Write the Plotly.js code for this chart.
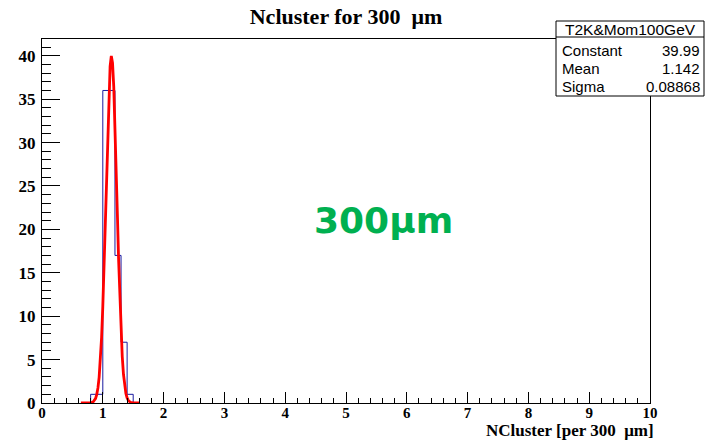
<!DOCTYPE html>
<html>
<head>
<meta charset="utf-8">
<script src="https://cdn.plot.ly/plotly-3.0.1.min.js"></script>
<style>html,body{margin:0;padding:0;background:#fff;}#chart{width:706px;height:440px;}</style>
</head>
<body>
<div id="chart"></div>
<script>
// Histogram bins (low edges, width 0.1) and counts
const binLow = [0.8, 0.9, 1.0, 1.1, 1.2, 1.3, 1.4];
const binWidth = 0.1;
const counts = [1, 1, 36, 36, 17, 7, 1];

// Fitted gaussian curve
const fitX = [0.64, 0.80, 0.84, 0.88, 0.90, 0.92, 0.94, 0.96, 0.98, 1.00, 1.02, 1.04, 1.06, 1.08, 1.10, 1.12, 1.14, 1.16, 1.18, 1.20, 1.22, 1.24, 1.26, 1.28, 1.30, 1.32, 1.34, 1.36, 1.38, 1.40, 1.42, 1.46, 1.50, 1.60];
const fitY = [0, 0.02, 0.12, 0.51, 0.97, 1.74, 2.99, 4.87, 7.54, 11.10, 15.52, 20.64, 26.08, 31.32, 35.75, 38.78, 39.98, 39.17, 36.48, 32.29, 27.16, 21.72, 16.50, 11.92, 8.18, 5.33, 3.31, 1.95, 1.09, 0.58, 0.29, 0.06, 0.01, 0];

// Stats box
const statsTitle = "T2K&Mom100GeV";
const statsLabels = ["Constant", "Mean", "Sigma"];
const statsValues = ["39.99", "1.142", "0.08868"];

const xTicks = [0,1,2,3,4,5,6,7,8,9,10];
const yTicks = [0,5,10,15,20,25,30,35,40];

// build step outline of histogram
const hx = [], hy = [];
hx.push(binLow[0]); hy.push(0);
for (let i = 0; i < binLow.length; i++) {
  hx.push(binLow[i]); hy.push(counts[i]);
  hx.push(binLow[i] + binWidth); hy.push(counts[i]);
}
hx.push(binLow[binLow.length-1] + binWidth); hy.push(0);

const L = 42, R = 650, T = 39, B = 403;
const W = R - L, H = B - T;
const px = v => (v - L) / W;
const py = v => (B - v) / H;

const serif = "Liberation Serif, Times New Roman, serif";
const sans = "Liberation Sans, Arial, sans-serif";

const traces = [
  {x: hx, y: hy, type: 'scatter', mode: 'lines', line: {color: '#1a1aa0', width: 1, shape: 'linear'}, hoverinfo: 'skip'},
  {x: fitX, y: fitY, type: 'scatter', mode: 'lines', line: {color: '#ff0000', width: 2.8}, hoverinfo: 'skip'}
];

const shapes = [
  {type: 'rect', xref: 'paper', yref: 'paper', x0: px(556), x1: px(704), y0: py(96), y1: py(21), line: {color: '#000', width: 1}, fillcolor: '#fff', layer: 'above'},
  {type: 'line', xref: 'paper', yref: 'paper', x0: px(556), x1: px(704), y0: py(37), y1: py(37), line: {color: '#000', width: 1}, layer: 'above'}
];

const annotations = [
  {xref: 'paper', yref: 'paper', x: px(630), y: py(29), text: statsTitle, showarrow: false, xanchor: 'center', yanchor: 'middle', font: {family: sans, size: 15.5, color: '#000'}},
  {xref: 'paper', yref: 'paper', x: px(383), y: py(220), text: '300μm', showarrow: false, xanchor: 'center', yanchor: 'middle', font: {family: 'DejaVu Sans, sans-serif', size: 36, color: '#00b050', weight: 'bold'}},
  {xref: 'paper', yref: 'paper', x: px(656), y: py(442), text: 'NCluster [per 300\u00a0 μm]', showarrow: false, xanchor: 'right', yanchor: 'bottom', font: {family: serif, size: 17, color: '#000', weight: 'bold'}}
];
const rowY = [50, 68, 86];
for (let i = 0; i < statsLabels.length; i++) {
  annotations.push({xref: 'paper', yref: 'paper', x: px(560), y: py(rowY[i]), text: statsLabels[i], showarrow: false, xanchor: 'left', yanchor: 'middle', font: {family: sans, size: 15, color: '#000'}});
  annotations.push({xref: 'paper', yref: 'paper', x: px(702), y: py(rowY[i]), text: statsValues[i], showarrow: false, xanchor: 'right', yanchor: 'middle', font: {family: sans, size: 15, color: '#000'}});
}

const layout = {
  width: 706, height: 440,
  margin: {l: L, r: 706 - R, t: T, b: 440 - B, pad: 0},
  paper_bgcolor: '#fff', plot_bgcolor: '#fff',
  showlegend: false,
  title: {text: 'Ncluster for 300\u00a0 μm', font: {family: serif, size: 22, color: '#000', weight: 'bold'}, xref: 'paper', x: 0.5, xanchor: 'center', yref: 'container', y: 1 - 16/440, yanchor: 'middle'},
  xaxis: {
    range: [0, 10], tickvals: xTicks, ticktext: xTicks.map(String),
    showgrid: false, zeroline: false, showline: true, linecolor: '#000', linewidth: 1, mirror: true,
    ticks: 'inside', ticklen: 11, tickcolor: '#000', tickwidth: 1,
    minor: {dtick: 0.2, ticks: 'inside', ticklen: 5, tickcolor: '#000', tickwidth: 1, showgrid: false},
    tickfont: {family: serif, size: 15, color: '#000', weight: 'bold'}, ticklabelstandoff: -4
  },
  yaxis: {
    range: [0, 41.93], tickvals: yTicks, ticktext: yTicks.map(String),
    showgrid: false, zeroline: false, showline: true, linecolor: '#000', linewidth: 1, mirror: true,
    ticks: 'inside', ticklen: 18, tickcolor: '#000', tickwidth: 1,
    minor: {dtick: 1, ticks: 'inside', ticklen: 9, tickcolor: '#000', tickwidth: 1, showgrid: false},
    tickfont: {family: serif, size: 17, color: '#000', weight: 'bold'}, ticklabelstandoff: 2
  },
  shapes: shapes,
  annotations: annotations
};

Plotly.newPlot('chart', traces, layout, {displayModeBar: false, staticPlot: true});
</script>
</body>
</html>
